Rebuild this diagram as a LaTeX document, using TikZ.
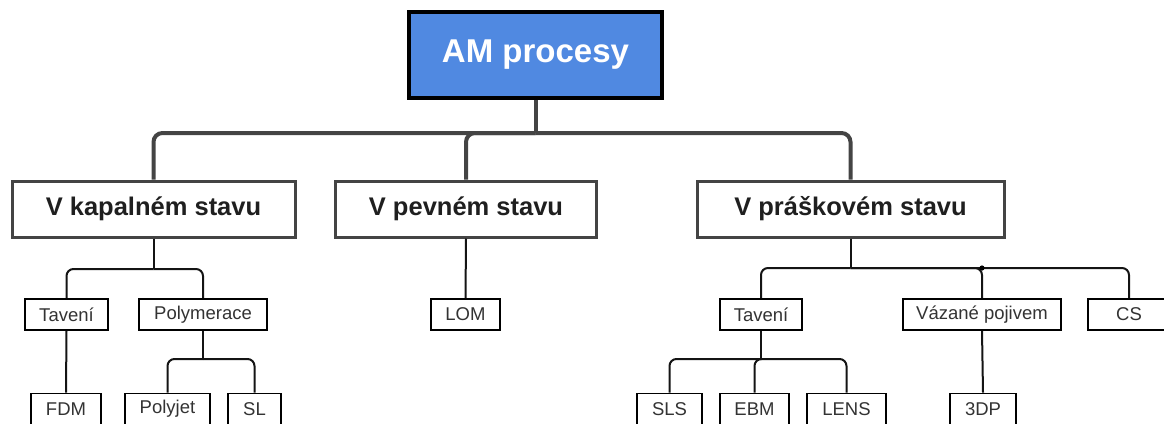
\documentclass[tikz,border=0pt]{standalone}
\usepackage{fontspec}
\setmainfont{Liberation Sans}
\definecolor{amblue}{HTML}{5089E1}
\definecolor{lvlgray}{HTML}{444444}
\definecolor{txtgray}{HTML}{333333}
\begin{document}
\begin{tikzpicture}[x=1pt,y=-1pt,
  rootbox/.style={draw=black,line width=3.5pt,fill=amblue,text=white,font=\fontsize{33}{36}\selectfont\bfseries,minimum height=86pt,inner sep=0pt},
  catbox/.style={draw=lvlgray,line width=3pt,fill=white,text=black!88,font=\fontsize{25.5}{28}\selectfont\bfseries,minimum height=56pt,inner sep=0pt},
  leafbox/.style={draw=black,line width=1.8pt,fill=white,text=txtgray,font=\fontsize{18.5}{20}\selectfont,minimum height=31pt,inner sep=0pt},
  conA/.style={draw=lvlgray,line width=4pt,rounded corners=9pt},
  conB/.style={draw=black!92,line width=2pt,rounded corners=7pt}]
\useasboundingbox (0,0) rectangle (1164,423);

% root
\node[rootbox,minimum width=253pt] (am) at (535.5,55) {AM procesy};

% level 1
\node[catbox,minimum width=283pt] (kap) at (153.5,209) {V kapalném stavu};
\node[catbox,minimum width=261pt] (pev) at (466,209) {V pevném stavu};
\node[catbox,minimum width=307pt] (pra) at (850.5,209) {V práškovém stavu};

% level 2
\node[leafbox,minimum width=83pt] (tav1) at (66.5,314.5) {Tavení};
\node[leafbox,minimum width=128pt] (poly) at (203,314.5) {Polymerace};
\node[leafbox,minimum width=69pt] (lom) at (465.5,314.5) {LOM};
\node[leafbox,minimum width=82pt] (tav2) at (761,314.5) {Tavení};
\node[leafbox,minimum width=158pt] (vaz) at (982,314.5) {Vázané pojivem};
\node[leafbox,minimum width=82pt] (cs) at (1129,314.5) {CS};

% level 3
\node[leafbox,minimum width=70pt] (fdm) at (66,409) {FDM};
\node[leafbox,minimum width=85pt] (pjt) at (167.5,409) {Polyjet};
\node[leafbox,minimum width=53pt] (sl) at (254.5,409) {SL};
\node[leafbox,minimum width=65pt] (sls) at (669.5,409) {SLS};
\node[leafbox,minimum width=69pt] (ebm) at (754.5,409) {EBM};
\node[leafbox,minimum width=79pt] (lens) at (846.5,409) {LENS};
\node[leafbox,minimum width=66pt] (tdp) at (983,409) {3DP};

% connectors root -> level 1
\draw[conA,rounded corners=0pt] (am.south) -- (am.south |- 0,133) coordinate (j0);
\draw[conA] (j0) -| (kap.north);
\draw[conA] (j0) -| (pev.north);
\draw[conA] (j0) -| (pra.north);

% kapalny
\draw[conB,rounded corners=0pt] (kap.south) -- (kap.south |- 0,269) coordinate (j1);
\draw[conB] (j1) -| (tav1.north);
\draw[conB] (j1) -| (poly.north);
\draw[conB] (tav1.south) -- (fdm.north);
\draw[conB,rounded corners=0pt] (poly.south) -- (poly.south |- 0,359) coordinate (j2);
\draw[conB] (j2) -| (pjt.north);
\draw[conB] (j2) -| (sl.north);

% pevny
\draw[conB] (pev.south) -- (lom.north);

% praskovy
\draw[conB,rounded corners=0pt] (pra.south) -- (pra.south |- 0,268) coordinate (j3);
\draw[conB] (j3) -| (tav2.north);
\draw[conB] (j3) -| (vaz.north);
\draw[conB] (j3) -| (cs.north);
\fill[black] (vaz.north |- j3) circle (2.6pt);
\draw[conB,rounded corners=0pt] (tav2.south) -- (tav2.south |- 0,359) coordinate (j4);
\draw[conB] (j4) -| (sls.north);
\draw[conB] (j4) -| (ebm.north);
\draw[conB] (j4) -| (lens.north);
\draw[conB] (vaz.south) -- (tdp.north);
\end{tikzpicture}
\end{document}
